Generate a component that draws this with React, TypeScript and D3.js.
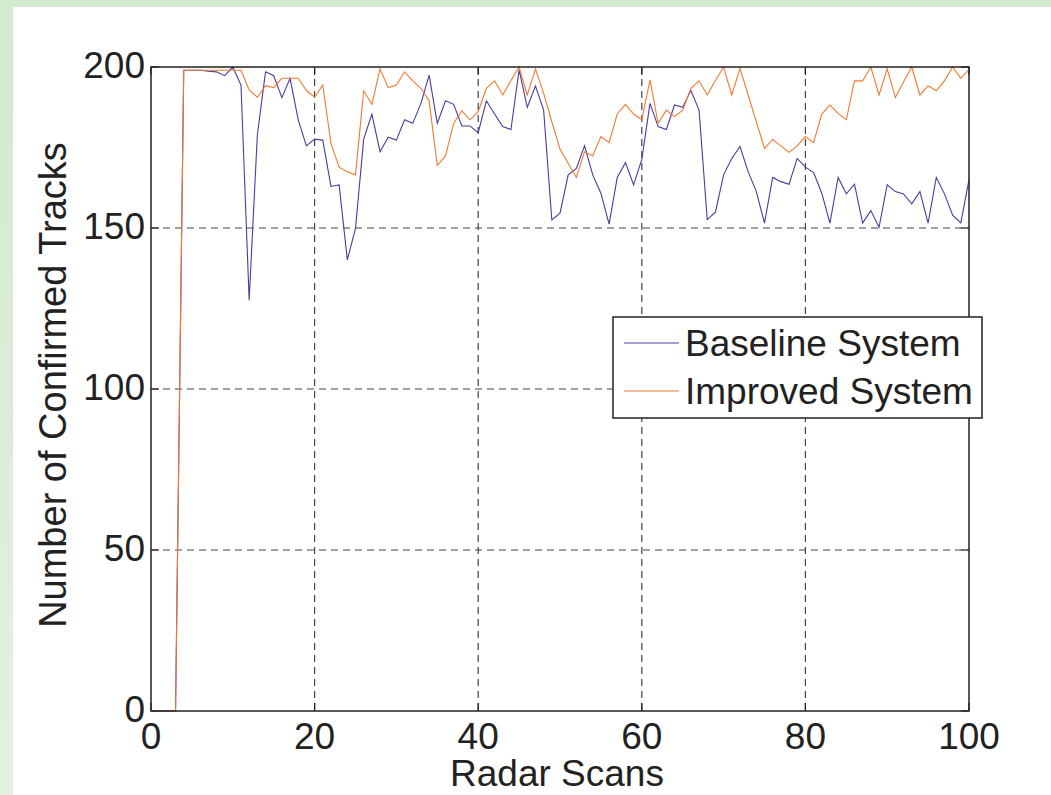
import React from "react";
import * as d3 from "d3";

const scans: number[] = d3.range(1, 101);
const baseline: number[] = [
  0, 0, 0, 199, 199, 199, 198.7, 198.5, 197.3, 200,
  194.4, 127.6, 178.9, 198.5, 197.3, 190.5, 196.5, 183.6, 175.5, 177.6,
  177.3, 162.9, 163.4, 140.1, 149.9, 177.6, 185.4, 173.7, 178.2, 177.3,
  183.6, 182.5, 188.7, 197.5, 182.5, 189.5, 188.4, 181.7, 181.7, 179.6,
  189.5, 185.4, 181.5, 180.6, 199.1, 187.5, 194.1, 186.6, 152.5, 154.6,
  166.5, 168.5, 175.5, 166.5, 160.8, 151.2, 165.7, 170.3, 163.4, 171.3,
  188.7, 181.5, 180.6, 188.2, 187.5, 192.7, 186.6, 152.6, 154.9, 166.5,
  171.6, 175.3, 167.5, 161.3, 151.5, 165.7, 164.4, 163.6, 171.6, 168.9,
  167.2, 160.8, 151.5, 165.7, 160.6, 163.6, 151.5, 155.4, 150.2, 163.4,
  161.3, 160.6, 157.5, 161.3, 151.5, 165.7, 160.6, 154, 151.6, 165,
];
const improved: number[] = [
  0, 0, 0, 199, 199, 199, 199, 199, 199, 199,
  199, 192.9, 190.6, 194.2, 193.6, 196.5, 196.5, 196.5, 192.7, 190.6,
  194.4, 176.3, 168.9, 167.5, 166.5, 192.6, 188.4, 199.4, 193.6, 194.4,
  198.5, 195.7, 193.4, 189.5, 169.4, 172.4, 182.5, 186.4, 183.6, 186.1,
  193.4, 195.7, 191.3, 195.8, 200, 191.3, 199.4, 191.8, 183, 174.5,
  170.1, 165.7, 173.7, 172.4, 178.4, 176.5, 185.4, 188.4, 185.4, 183.6,
  196, 182.5, 186.6, 184.6, 186.6, 193.4, 195.7, 191.3, 195.8, 200,
  191.3, 199.6, 191.3, 183, 174.7, 177.5, 175.5, 173.5, 175.5, 178.4,
  176.5, 185.4, 188.2, 185.6, 183.6, 195.7, 195.7, 200, 191.3, 199.4,
  190.5, 195.4, 200, 191.3, 194.2, 192.6, 195.7, 200, 196.5, 199.3,
];
const xTicks: number[] = [0, 20, 40, 60, 80, 100];
const yTicks: number[] = [0, 50, 100, 150, 200];
const seriesNames: string[] = ["Baseline System", "Improved System"];
const seriesColors: string[] = ["#4b3c9f", "#f47930"];

const W = 1051;
const H = 795;
const M = { left: 151, right: 969, top: 67, bottom: 711 };
const FONT = "'Liberation Sans', Arial, Helvetica, sans-serif";

export default function App() {
  const x = d3.scaleLinear().domain([0, 100]).range([M.left, M.right]);
  const y = d3.scaleLinear().domain([0, 200]).range([M.bottom, M.top]);
  const line = d3
    .line<number>()
    .x((_, i) => x(scans[i]))
    .y((d) => y(d));
  const series = [baseline, improved];

  return (
    <div style={{ position: "absolute", left: 0, top: 0 }}>
      <style>{`body{margin:0}`}</style>
      <svg width={W} height={H} style={{ display: "block" }}>
        <defs>
          <linearGradient id="lg" x1="0" y1="0" x2="0" y2="1">
            <stop offset="0" stopColor="#d3e9d0" />
            <stop offset="1" stopColor="#e3f1df" />
          </linearGradient>
        </defs>
        <rect x={0} y={0} width={W} height={H} fill="#ffffff" />
        <rect x={0} y={0} width={13} height={H} fill="url(#lg)" />
        <rect x={0} y={0} width={W} height={7} fill="#d3e9d0" />

        {/* grid */}
        {xTicks.slice(1, -1).map((t) => (
          <line key={"gx" + t} x1={x(t)} x2={x(t)} y1={M.top} y2={M.bottom}
            stroke="#444" strokeWidth={1.2} strokeDasharray="7,5" />
        ))}
        {yTicks.slice(1, -1).map((t) => (
          <line key={"gy" + t} x1={M.left} x2={M.right} y1={y(t)} y2={y(t)}
            stroke="#444" strokeWidth={1.2} strokeDasharray="7,5" />
        ))}
        {/* ticks */}
        {xTicks.map((t) => (
          <g key={"tx" + t}>
            <line x1={x(t)} x2={x(t)} y1={M.bottom} y2={M.bottom - 8} stroke="#222" strokeWidth={1.2} />
            <line x1={x(t)} x2={x(t)} y1={M.top} y2={M.top + 8} stroke="#222" strokeWidth={1.2} />
            <text x={x(t)} y={749} textAnchor="middle" fontFamily={FONT} fontSize={37} fill="#222">{t}</text>
          </g>
        ))}
        {yTicks.map((t) => (
          <g key={"ty" + t}>
            <line x1={M.left} x2={M.left + 8} y1={y(t)} y2={y(t)} stroke="#222" strokeWidth={1.2} />
            <line x1={M.right} x2={M.right - 8} y1={y(t)} y2={y(t)} stroke="#222" strokeWidth={1.2} />
            <text x={145} y={y(t) + 11} textAnchor="end" fontFamily={FONT} fontSize={37} fill="#222">{t}</text>
          </g>
        ))}

        {/* lines */}
        {series.map((s, k) => (
          <path key={"s" + k} d={line(s) || ""} fill="none" stroke={seriesColors[k]} strokeWidth={1.1} />
        ))}

        {/* frame */}
        <rect x={M.left} y={M.top} width={M.right - M.left} height={M.bottom - M.top}
          fill="none" stroke="#222" strokeWidth={1.5} />

        {/* axis labels */}
        <text x={(M.left + M.right) / 2 - 3} y={786} textAnchor="middle" fontFamily={FONT} fontSize={37} fill="#222">Radar Scans</text>
        <text transform={`translate(66,${(M.top + M.bottom) / 2 - 4}) rotate(-90)`} textAnchor="middle"
          fontFamily={FONT} fontSize={38} fill="#222">Number of Confirmed Tracks</text>

        {/* legend */}
        <rect x={613} y={317} width={369} height={101} fill="#ffffff" stroke="#222" strokeWidth={1.5} />
        {seriesNames.map((n, k) => (
          <g key={"lg" + k}>
            <line x1={624} x2={679} y1={343 + k * 48} y2={343 + k * 48} stroke={seriesColors[k]} strokeWidth={1.1} />
            <text x={685} y={356 + k * 48} fontFamily={FONT} fontSize={37} fill="#222">{n}</text>
          </g>
        ))}
      </svg>
    </div>
  );
}
